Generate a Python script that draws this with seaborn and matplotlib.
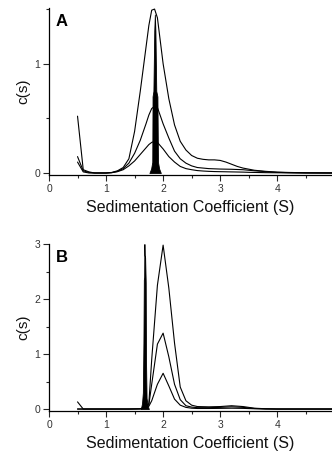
import matplotlib
matplotlib.use("Agg")
import matplotlib.pyplot as plt
import pandas as pd
import seaborn as sns
from matplotlib.ticker import MultipleLocator

# Panel A: c(s) distributions (three loading concentrations)
S_A = [0.5, 0.6, 0.7, 0.8, 0.9, 1.0, 1.1, 1.2, 1.3, 1.4, 1.5, 1.6, 1.7, 1.75, 1.8,
       1.85, 1.9, 2.0, 2.1, 2.2, 2.3, 2.4, 2.5, 2.6, 2.7, 2.8, 2.9, 3.0, 3.1, 3.2,
       3.3, 3.4, 3.5, 3.6, 3.8, 4.0, 4.2, 4.5, 5.0]
A_HIGH = [0.52, 0.03, 0.01, 0.0, 0.0, 0.0, 0.005, 0.02, 0.05, 0.13, 0.38, 0.75, 1.15,
          1.35, 1.49, 1.5, 1.42, 1.0, 0.68, 0.44, 0.29, 0.21, 0.16, 0.135, 0.125, 0.12,
          0.12, 0.115, 0.1, 0.08, 0.06, 0.045, 0.035, 0.025, 0.015, 0.008, 0.005, 0.002, 0.0]
A_MID = [0.15, 0.02, 0.005, 0.0, 0.0, 0.0, 0.003, 0.015, 0.04, 0.09, 0.18, 0.3, 0.45,
         0.53, 0.59, 0.61, 0.6, 0.45, 0.32, 0.2, 0.13, 0.09, 0.065, 0.05, 0.045, 0.04,
         0.038, 0.036, 0.035, 0.034, 0.032, 0.03, 0.025, 0.02, 0.012, 0.006, 0.003, 0.001, 0.0]
A_LOW = [0.1, 0.01, 0.0, 0.0, 0.0, 0.0, 0.003, 0.012, 0.03, 0.065, 0.11, 0.17, 0.23,
         0.26, 0.28, 0.29, 0.28, 0.22, 0.15, 0.1, 0.06, 0.04, 0.03, 0.022, 0.018, 0.015,
         0.013, 0.012, 0.011, 0.01, 0.009, 0.008, 0.006, 0.005, 0.003, 0.002, 0.001, 0.0, 0.0]
# narrow filled distribution in A
A_SPIKE_S = [1.76, 1.79, 1.81, 1.815, 1.83, 1.845, 1.855, 1.865, 1.88, 1.90, 1.91, 1.93, 1.96]
A_SPIKE_C = [0.0, 0.04, 0.1, 0.7, 0.75, 1.3, 1.45, 1.3, 0.75, 0.7, 0.1, 0.04, 0.0]

# Panel B
S_B = [0.5, 0.6, 0.8, 1.0, 1.2, 1.4, 1.6, 1.7, 1.75, 1.8, 1.9, 2.0, 2.1, 2.2, 2.3,
       2.4, 2.5, 2.6, 2.8, 3.0, 3.2, 3.4, 3.6, 3.8, 4.0, 4.5, 5.0]
B_HIGH = [0.13, 0.0, 0.0, 0.0, 0.0, 0.0, 0.005, 0.04, 0.1, 0.9, 2.25, 2.98, 2.2, 1.2,
          0.4, 0.15, 0.07, 0.045, 0.04, 0.045, 0.06, 0.045, 0.015, 0.005, 0.0, 0.0, 0.0]
B_MID = [0.0, 0.0, 0.0, 0.0, 0.0, 0.0, 0.003, 0.03, 0.08, 0.45, 1.18, 1.38, 0.95, 0.45,
         0.17, 0.06, 0.035, 0.025, 0.025, 0.03, 0.04, 0.03, 0.01, 0.003, 0.0, 0.0, 0.0]
B_LOW = [0.0, 0.0, 0.0, 0.0, 0.0, 0.0, 0.002, 0.02, 0.05, 0.15, 0.45, 0.65, 0.42, 0.18,
         0.07, 0.03, 0.015, 0.01, 0.01, 0.012, 0.015, 0.012, 0.005, 0.001, 0.0, 0.0, 0.0]
B_SPIKE_S = [1.61, 1.63, 1.645, 1.655, 1.662, 1.668, 1.672, 1.676, 1.685, 1.695, 1.70,
             1.71, 1.73, 1.75]
B_SPIKE_C = [0.0, 0.1, 0.3, 1.2, 2.35, 2.4, 3.0, 2.8, 2.75, 2.3, 0.9, 0.2, 0.06, 0.0]


def long_frame(s, curves):
    rows = []
    for name, vals in curves.items():
        for x, y in zip(s, vals):
            rows.append({"s": x, "c": y, "curve": name})
    return pd.DataFrame(rows)


def draw_panel(ax, df, spike_s, spike_c, ylim, letter):
    sns.lineplot(data=df, x="s", y="c", units="curve", estimator=None,
                 color="black", linewidth=0.8, sort=False, ax=ax)
    ax.fill_between(spike_s, 0, spike_c, color="black", linewidth=0.6)
    ax.set_xlim(0, 4.96)
    ax.set_ylim(*ylim)
    ax.xaxis.set_major_locator(MultipleLocator(1))
    ax.xaxis.set_minor_locator(MultipleLocator(0.5))
    ax.yaxis.set_major_locator(MultipleLocator(1))
    ax.yaxis.set_minor_locator(MultipleLocator(0.5))
    ax.tick_params(which="major", direction="out", length=4, width=0.8,
                   labelsize=7.5, pad=2.5, labelcolor="#333333")
    ax.tick_params(which="minor", direction="out", length=2, width=0.8)
    ax.set_xlabel("Sedimentation Coefficient (S)", fontsize=11.5, labelpad=4,
                  color="#111111")
    ax.set_ylabel("c(s)", fontsize=11, labelpad=3, color="#111111")
    ax.text(0.025, 0.965, letter, transform=ax.transAxes, fontsize=12,
            fontweight="bold", va="top", ha="left", color="black")
    for side in ("top", "right"):
        ax.spines[side].set_visible(False)
    for side in ("left", "bottom"):
        ax.spines[side].set_linewidth(0.9)
        ax.spines[side].set_color("black")


sns.set_theme(style="ticks")
plt.rcParams["font.family"] = ["Liberation Sans", "DejaVu Sans"]

fig = plt.figure(figsize=(3.32, 4.58), dpi=100)
ax_a = fig.add_axes([0.1476, 0.618, 0.8524, 0.3646])
ax_b = fig.add_axes([0.1476, 0.1026, 0.8524, 0.3646])

df_a = long_frame(S_A, {"high": A_HIGH, "mid": A_MID, "low": A_LOW})
df_b = long_frame(S_B, {"high": B_HIGH, "mid": B_MID, "low": B_LOW})

draw_panel(ax_a, df_a, A_SPIKE_S, A_SPIKE_C, (-0.018, 1.51), "A")
draw_panel(ax_b, df_b, B_SPIKE_S, B_SPIKE_C, (-0.036, 3.0), "B")

fig.savefig("out.png", dpi=100)
